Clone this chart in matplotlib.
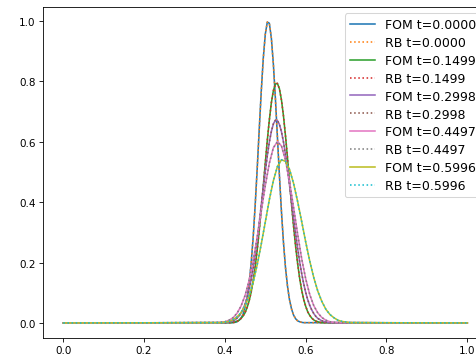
import numpy as np
import matplotlib
matplotlib.use('Agg')
import matplotlib.pyplot as plt

times = [0.0, 0.1499, 0.2998, 0.4497, 0.5996]

# sample positions where each snapshot is non-zero (zero elsewhere on [0, 1])
x_t0 = np.arange(84, 120) * 0.005
x_t1 = np.arange(82, 130) * 0.005
x_t2 = np.arange(80, 134) * 0.005
x_t3 = np.arange(38, 69) * 0.01
x_t4 = np.arange(38, 73) * 0.01

u_t0 = [0.001, 0.002, 0.004, 0.009, 0.016, 0.029, 0.051, 0.083, 0.132, 0.198, 0.284, 0.391,
        0.512, 0.641, 0.767, 0.876, 0.956, 0.996, 0.992, 0.943, 0.856, 0.743, 0.615, 0.487,
        0.368, 0.266, 0.183, 0.121, 0.076, 0.046, 0.026, 0.014, 0.007, 0.004, 0.002, 0.001]
u_t1 = [0.001, 0.001, 0.002, 0.003, 0.006, 0.009, 0.015, 0.023, 0.034, 0.051, 0.073, 0.102,
        0.140, 0.186, 0.242, 0.306, 0.377, 0.453, 0.530, 0.605, 0.672, 0.729, 0.769, 0.791,
        0.793, 0.775, 0.738, 0.685, 0.619, 0.546, 0.468, 0.392, 0.320, 0.254, 0.197, 0.148,
        0.109, 0.078, 0.055, 0.037, 0.025, 0.016, 0.010, 0.006, 0.004, 0.002, 0.001, 0.001]
u_t2 = [0.001, 0.002, 0.003, 0.004, 0.007, 0.010, 0.016, 0.023, 0.033, 0.046, 0.063, 0.084,
        0.112, 0.144, 0.183, 0.228, 0.278, 0.332, 0.389, 0.446, 0.502, 0.554, 0.599, 0.634,
        0.659, 0.671, 0.670, 0.657, 0.633, 0.599, 0.557, 0.508, 0.456, 0.402, 0.348, 0.296,
        0.247, 0.203, 0.164, 0.130, 0.101, 0.077, 0.058, 0.043, 0.031, 0.022, 0.015, 0.011,
        0.007, 0.005, 0.003, 0.002, 0.001, 0.001]
u_t3 = [0.001, 0.002, 0.004, 0.009, 0.017, 0.032, 0.056, 0.091, 0.141, 0.206, 0.284, 0.370,
        0.455, 0.529, 0.580, 0.600, 0.586, 0.539, 0.467, 0.382, 0.294, 0.213, 0.146, 0.094,
        0.057, 0.033, 0.018, 0.009, 0.004, 0.002, 0.001]
u_t4 = [0.001, 0.001, 0.003, 0.005, 0.011, 0.020, 0.034, 0.057, 0.090, 0.135, 0.193, 0.261,
        0.334, 0.408, 0.471, 0.518, 0.540, 0.535, 0.508, 0.462, 0.402, 0.336, 0.268, 0.205,
        0.150, 0.105, 0.071, 0.045, 0.028, 0.017, 0.009, 0.005, 0.003, 0.001, 0.001]

# reduced basis solution is indistinguishable from the full model at plot scale
fom = [u_t0, u_t1, u_t2, u_t3, u_t4]
rb = [u_t0, u_t1, u_t2, u_t3, u_t4]
xs = [x_t0, x_t1, x_t2, x_t3, x_t4]

fig = plt.figure(figsize=(476/75, 365/75), dpi=75)
ax = fig.add_axes([43.1/476, 26/365, 444.4/476, 331/365])
for t, x, uf, ur in zip(times, xs, fom, rb):
    xx = np.concatenate([[0.0], x, [1.0]])
    ax.plot(xx, np.concatenate([[0.0], uf, [0.0]]), label='FOM t=%.4f' % t)
    ax.plot(xx, np.concatenate([[0.0], ur, [0.0]]), ':', label='RB t=%.4f' % t)
ax.legend(loc='upper right', fontsize=12, labelspacing=0.39)
fig.savefig('out.png', dpi=75)
